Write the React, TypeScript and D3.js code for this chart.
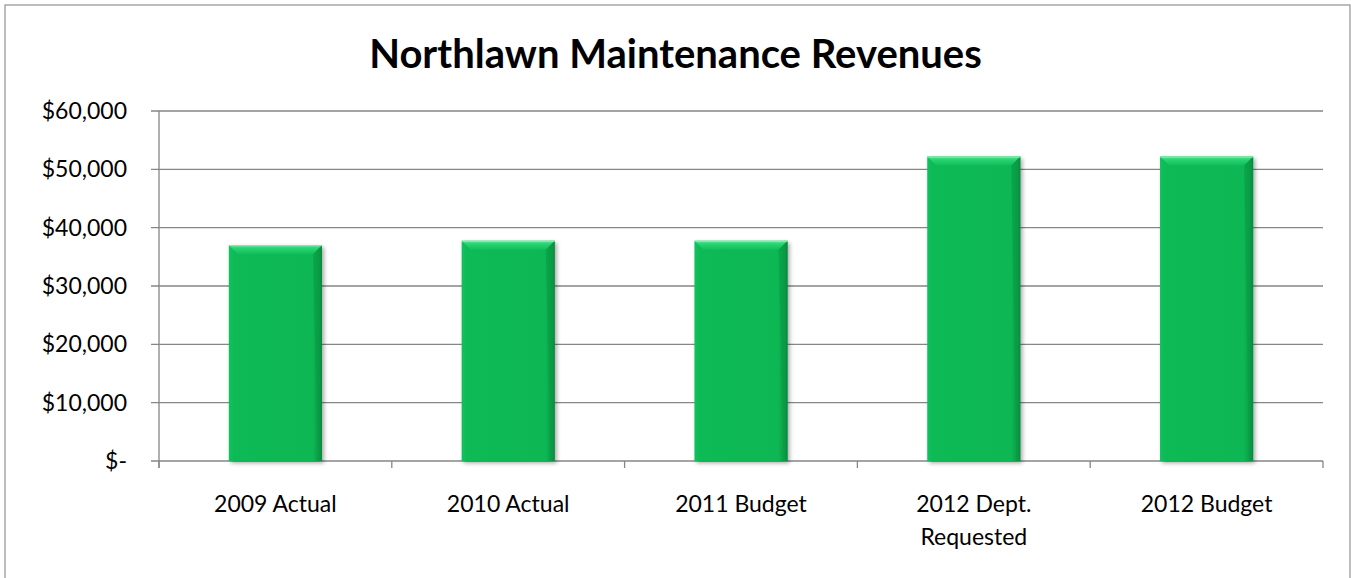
import React from "react";
import * as d3 from "d3";

const title = "Northlawn Maintenance Revenues";
const categories = ["2009 Actual", "2010 Actual", "2011 Budget", "2012 Dept.\nRequested", "2012 Budget"];
const values = [37000, 37750, 37750, 52200, 52200];
const yTicks = [0, 10000, 20000, 30000, 40000, 50000, 60000];

const W = 1351;
const H = 578;
const plotLeft = 159;
const plotRight = 1323;
const plotTop = 111;
const plotBottom = 461;
const FONT = "Lato, 'Open Sans', sans-serif";
const GRID = "#868686";

const fmt = (v: number) => (v === 0 ? "$-" : "$" + d3.format(",")(v));

export default function App() {
  const x = d3.scaleBand<string>().domain(categories).range([plotLeft, plotRight]).paddingInner(0.6).paddingOuter(0.3);
  const y = d3.scaleLinear().domain([0, 60000]).range([plotBottom, plotTop]);
  const step = x.step();
  const bw = x.bandwidth();
  const boundaries = d3.range(categories.length + 1).map((i) => plotLeft + i * step);

  return (
    <svg width={W} height={H} style={{ position: "absolute", left: 0, top: 0, background: "#fff" }}>
      <defs>
        <linearGradient id="barH" x1="0" x2="1" y1="0" y2="0">
          <stop offset="0" stopColor="#12C25E" />
          <stop offset="0.06" stopColor="#0BBA56" />
          <stop offset="0.9" stopColor="#0AB753" />
          <stop offset="0.97" stopColor="#089A45" />
          <stop offset="1" stopColor="#067A36" />
        </linearGradient>
        <linearGradient id="bevel" x1="0" x2="0" y1="0" y2="1">
          <stop offset="0" stopColor="#5BE695" />
          <stop offset="0.35" stopColor="#2BD273" />
          <stop offset="1" stopColor="#10BE5B" />
        </linearGradient>
        <filter id="shadow" x="-20%" y="-20%" width="140%" height="140%">
          <feDropShadow dx="2" dy="2" stdDeviation="2" floodColor="#000" floodOpacity="0.35" />
        </filter>
      </defs>
      <rect x={5} y={5} width={1345} height={600} fill="#fff" stroke="#9a9a9a" strokeWidth={1.3} />
      <text x={W / 2} y={68} textAnchor="middle" fontFamily={FONT} fontWeight={700} fontSize={40} fill="#000">
        {title}
      </text>
      {yTicks.map((t) => (
        <g key={t}>
          <line x1={151} x2={plotRight} y1={y(t)} y2={y(t)} stroke={GRID} strokeWidth={1.3} />
          <text x={127} y={y(t)} dy="0.35em" textAnchor="end" fontFamily={FONT} fontSize={23} fill="#000">
            {fmt(t)}
          </text>
        </g>
      ))}
      <line x1={plotLeft} x2={plotLeft} y1={plotTop} y2={plotBottom + 7} stroke={GRID} strokeWidth={1.3} />
      {boundaries.map((bx, i) => (
        <line key={i} x1={bx} x2={bx} y1={plotBottom} y2={plotBottom + 7} stroke={GRID} strokeWidth={1.3} />
      ))}
      {categories.map((c, i) => {
        const x0 = x(c)!;
        const y0 = y(values[i]);
        const h = plotBottom - y0;
        const bev = 9;
        return (
          <g key={c}>
            <rect x={x0} y={y0} width={bw} height={h} fill="url(#barH)" filter="url(#shadow)" />
            <polygon
              points={`${x0},${y0} ${x0 + bw},${y0} ${x0 + bw - bev},${y0 + bev} ${x0 + bev},${y0 + bev}`}
              fill="url(#bevel)"
            />
            <polygon
              points={`${x0 + bw},${y0} ${x0 + bw},${y0 + h} ${x0 + bw - 4},${y0 + h} ${x0 + bw - bev},${y0 + bev}`}
              fill="#079A45"
              opacity={0.55}
            />
            <line x1={x0} x2={x0 + bw} y1={y0 + 0.5} y2={y0 + 0.5} stroke="#8CEFB5" strokeWidth={1} />
          </g>
        );
      })}
      {categories.map((c) => {
        const cx = x(c)! + bw / 2;
        const lines = c.split("\n");
        return (
          <text key={c} x={cx} y={512} textAnchor="middle" fontFamily={FONT} fontSize={23} fill="#000">
            {lines.map((l, j) => (
              <tspan key={j} x={cx} dy={j === 0 ? 0 : 33}>
                {l}
              </tspan>
            ))}
          </text>
        );
      })}
    </svg>
  );
}
